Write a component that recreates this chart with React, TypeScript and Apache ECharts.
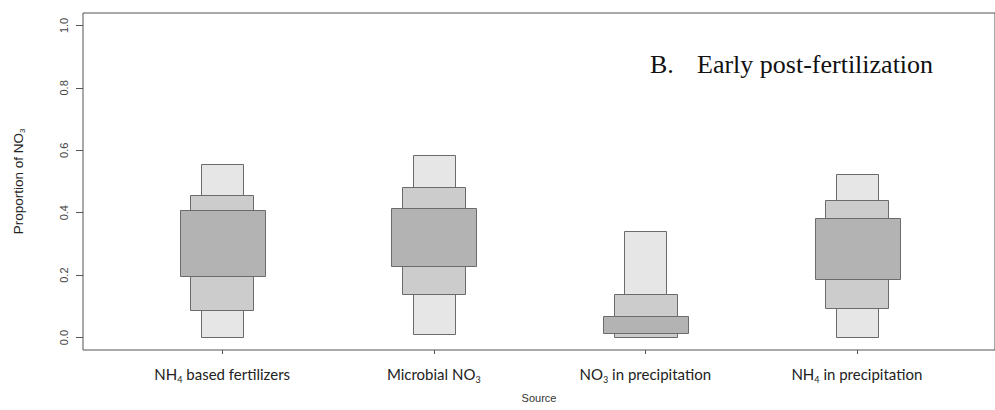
import React, { useEffect, useRef } from "react";
import * as echarts from "echarts";

// Source categories (rich-text markup renders the subscripts)
const sources = [
  "NH{s|4} based fertilizers",
  "Microbial NO{s|3}",
  "NO{s|3} in precipitation",
  "NH{s|4} in precipitation",
];

// Credible-interval bounds of the NO3 source proportions
const outerLow = [0.002, 0.011, 0.0, 0.004];
const outerHigh = [0.557, 0.584, 0.341, 0.525];
const midLow = [0.087, 0.139, 0.0, 0.093];
const midHigh = [0.456, 0.482, 0.139, 0.44];
const innerLow = [0.2, 0.228, 0.016, 0.189];
const innerHigh = [0.41, 0.415, 0.069, 0.384];

const yTicks = [0, 0.2, 0.4, 0.6, 0.8, 1.0];
const xPositions = [1, 2, 3, 4];

function bandSeries(low: number[], high: number[], halfWidth: number, fill: string) {
  return {
    type: "custom",
    data: low.map((lo, i) => [xPositions[i], lo, high[i]]),
    encode: { x: 0, y: [1, 2] },
    renderItem: (_params: any, api: any) => {
      const x = api.value(0);
      const lo = api.value(1);
      const hi = api.value(2);
      const left = api.coord([x - halfWidth, hi]);
      const right = api.coord([x + halfWidth, lo]);
      return {
        type: "rect",
        shape: {
          x: Math.round(left[0]) + 0.5,
          y: Math.round(left[1]) + 0.5,
          width: Math.round(right[0] - left[0]),
          height: Math.round(right[1] - left[1]),
        },
        style: { fill, stroke: "#6b6b6b", lineWidth: 1 },
      };
    },
  };
}

export default function App() {
  const ref = useRef<HTMLDivElement>(null);

  useEffect(() => {
    if (!ref.current) return;
    const chart = echarts.init(ref.current, undefined, { renderer: "svg" });
    chart.setOption({
      animation: false,
      backgroundColor: "#ffffff",
      grid: {
        left: 82,
        top: 13,
        width: 924,
        height: 337,
        show: true,
        borderColor: "#555555",
        borderWidth: 1,
        backgroundColor: "transparent",
      },
      xAxis: {
        type: "value",
        min: 0.342,
        max: 4.653,
        splitLine: { show: false },
        axisLine: { show: false, onZero: false },
        axisTick: {
          show: true,
          length: 4,
          customValues: xPositions,
          lineStyle: { color: "#555555" },
        },
        axisLabel: {
          customValues: xPositions,
          margin: 13,
          fontFamily: "Lato",
          fontSize: 15,
          lineHeight: 22,
          color: "#222",
          formatter: (v: number) => sources[Math.round(v) - 1] ?? "",
          rich: {
            s: { fontSize: 9, padding: [10, 0, 0, 0], fontFamily: "Lato", color: "#222" },
          },
        },
        name: "Source",
        nameLocation: "middle",
        nameGap: 42,
        nameTextStyle: { fontFamily: "Liberation Sans", fontSize: 11, color: "#333" },
      },
      yAxis: {
        type: "value",
        min: -0.04,
        max: 1.04,
        splitLine: { show: false },
        axisLine: { show: false, onZero: false },
        axisTick: {
          show: true,
          length: 7,
          customValues: yTicks,
          lineStyle: { color: "#555555" },
        },
        axisLabel: {
          customValues: yTicks,
          rotate: 90,
          margin: 14,
          fontFamily: "Liberation Sans",
          fontSize: 11,
          color: "#444",
          formatter: (v: number) => v.toFixed(1),
        },
        name: "Proportion of NO{s|3}",
        nameLocation: "middle",
        nameRotate: 90,
        nameGap: 55,
        nameTextStyle: {
          fontFamily: "Liberation Sans",
          fontSize: 13.5,
          lineHeight: 20,
          color: "#222",
          rich: {
            s: { fontSize: 8, padding: [9, 0, 0, 0], fontFamily: "Liberation Sans", color: "#222" },
          },
        },
      },
      graphic: [
        {
          type: "text",
          x: 650,
          y: 64,
          style: {
            text: "B.",
            font: "26px 'Liberation Serif'",
            fill: "#111",
            verticalAlign: "middle",
          },
        },
        {
          type: "text",
          x: 697,
          y: 64,
          style: {
            text: "Early post-fertilization",
            font: "26px 'Liberation Serif'",
            fill: "#111",
            verticalAlign: "middle",
          },
        },
      ],
      series: [
        bandSeries(outerLow, outerHigh, 0.1, "#e6e6e6"),
        bandSeries(midLow, midHigh, 0.15, "#cccccc"),
        bandSeries(innerLow, innerHigh, 0.2, "#b3b3b3"),
      ],
    });
    return () => chart.dispose();
  }, []);

  return (
    <div
      ref={ref}
      style={{ position: "absolute", left: 0, top: 0, width: 995, height: 410 }}
    />
  );
}
